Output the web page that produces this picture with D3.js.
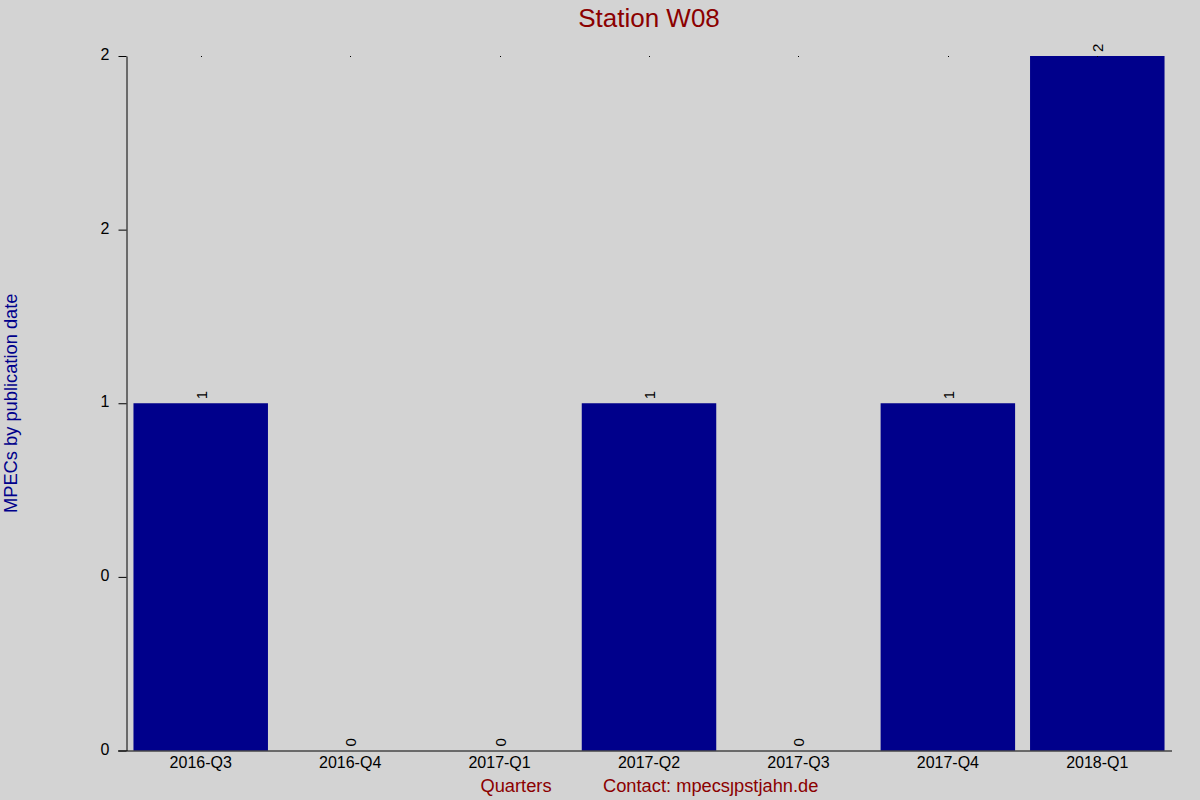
<!DOCTYPE html>
<html>
<head>
<meta charset="utf-8">
<script src="https://cdn.jsdelivr.net/npm/d3@7"></script>
<style>
	html, body { margin: 0; padding: 0; background: #d3d3d3; }
	svg { display: block; font-family: "Liberation Sans", Arial, sans-serif; }
</style>
</head>
<body>
<svg id="chart" width="1200" height="800"></svg>
<script>
// Dados do gráfico
const quarters = ["2016-Q3", "2016-Q4", "2017-Q1", "2017-Q2", "2017-Q3", "2017-Q4", "2018-Q1"];
const counts = [1, 0, 0, 1, 0, 1, 2];
const yTickValues = [0, 0.5, 1, 1.5, 2];
const yTickLabels = ["0", "0", "1", "2", "2"];

const svg = d3.select("#chart");
const width = 1200, height = 800;
const margin = { top: 56, right: 28, bottom: 49, left: 126 };

svg.append("rect")
	.attr("width", width)
	.attr("height", height)
	.attr("fill", "#d3d3d3");

// Escalas
const x = d3.scaleBand()
	.domain(quarters)
	.range([margin.left, width - margin.right])
	.paddingInner(0.1)
	.paddingOuter(0.05);

const y = d3.scaleLinear()
	.domain([0, 2])
	.range([height - margin.bottom - 0.5, margin.top]);

// Barras
svg.append("g")
	.selectAll("rect")
	.data(counts)
	.join("rect")
	.attr("x", (d, i) => x(quarters[i]))
	.attr("width", x.bandwidth())
	.attr("y", d => y(d))
	.attr("height", d => y(0) - y(d))
	.attr("fill", "#00008b");

// Pontinhos no topo da área
svg.append("g")
	.selectAll("rect")
	.data(quarters)
	.join("rect")
	.attr("x", d => Math.round(x(d) + x.bandwidth() / 2))
	.attr("y", y(2))
	.attr("width", 1)
	.attr("height", 1)
	.attr("fill", "#000");

// Rótulos dos valores (rotacionados)
svg.append("g")
	.selectAll("text")
	.data(counts)
	.join("text")
	.attr("transform", (d, i) =>
		`translate(${x(quarters[i]) + x.bandwidth() / 2 + 6}, ${y(d) - 4}) rotate(-90)`)
	.attr("font-size", 15)
	.attr("fill", "#000")
	.text(d => d);

// Eixo Y
const yAxis = d3.axisLeft(y)
	.tickValues(yTickValues)
	.tickFormat((d, i) => yTickLabels[i])
	.tickSize(8)
	.tickPadding(9)
	.tickSizeOuter(0);

const gy = svg.append("g")
	.attr("transform", `translate(${margin.left + 0.5},0)`)
	.call(yAxis);
gy.select(".domain").attr("stroke", "#000");
gy.selectAll(".tick line").attr("stroke", "#000");
gy.selectAll(".tick text")
	.attr("font-size", 16)
	.attr("font-family", "Liberation Sans, Arial, sans-serif")
	.attr("dy", "0.22em")
	.attr("fill", "#000");

// Eixo X
const xAxis = d3.axisBottom(x).tickSize(0).tickPadding(6).tickSizeOuter(0);
const gx = svg.append("g")
	.attr("transform", `translate(0,${y(0)})`)
	.call(xAxis);
gx.select(".domain")
	.attr("d", `M${margin.left - 8},0.5H${width - margin.right}`)
	.attr("stroke", "#000");
gx.selectAll(".tick text")
	.attr("font-size", 16)
	.attr("font-family", "Liberation Sans, Arial, sans-serif")
	.attr("fill", "#000");

// Título
svg.append("text")
	.attr("x", (margin.left + width - margin.right) / 2)
	.attr("y", 27)
	.attr("text-anchor", "middle")
	.attr("font-size", 26)
	.attr("fill", "#8b0000")
	.text("Station W08");

// Rótulo do eixo Y
svg.append("text")
	.attr("transform", `translate(17, ${(y(0) + y(2)) / 2}) rotate(-90)`)
	.attr("text-anchor", "middle")
	.attr("font-size", 18.3)
	.attr("fill", "#00008b")
	.text("MPECs by publication date");

// Rótulos inferiores
svg.append("text")
	.attr("x", 516)
	.attr("y", 792)
	.attr("text-anchor", "middle")
	.attr("font-size", 18.3)
	.attr("fill", "#8b0000")
	.text("Quarters");

svg.append("text")
	.attr("x", 603)
	.attr("y", 792)
	.attr("font-size", 18.3)
	.attr("fill", "#8b0000")
	.text("Contact: mpecs\u0237pstjahn.de");
</script>
</body>
</html>
